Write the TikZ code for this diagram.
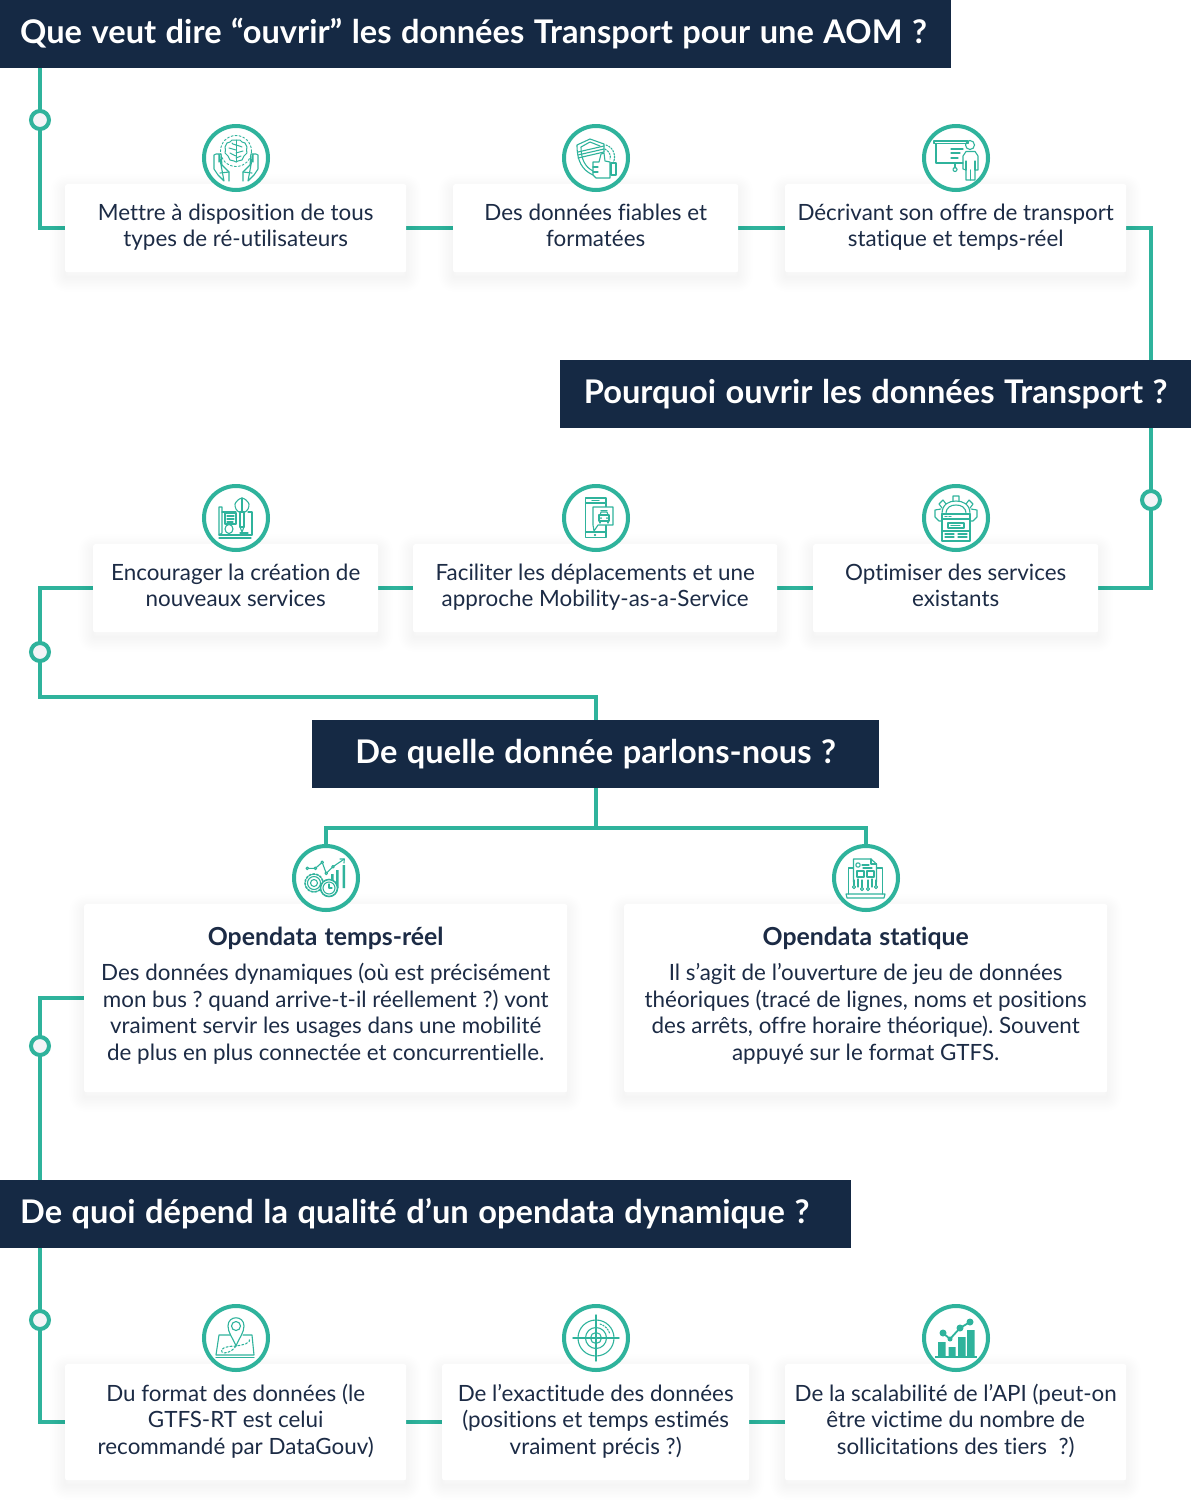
\documentclass[tikz,border=0pt]{standalone}
\usepackage{fontspec}
\setmainfont[Ligatures=NoCommon,WordSpace=1.0]{Lato}
\newfontfamily\titlefont[Ligatures=NoCommon,WordSpace=1.2,BoldFont={Lato Bold},BoldFeatures={WordSpace=1.2}]{Lato}
\frenchspacing
\usetikzlibrary{backgrounds}
\definecolor{teal}{HTML}{2FB39C}
\definecolor{navy}{HTML}{152944}
\definecolor{ink}{HTML}{1C2B45}
\definecolor{dotfill}{HTML}{F3F4F7}
\tikzset{
  softshadow/.style={preaction={draw=black,draw opacity=.0045,line width=#1,line join=round,transform canvas={yshift=-5pt}}},
  card/.style={fill=white,rounded corners=2pt,inner sep=0pt,align=center,text=ink,anchor=north west,
    font=\frenchspacing\fontsize{22.4}{26.5}\selectfont,
    execute at begin node={\rule{0pt}{18pt}},execute at end node={\rule[-6pt]{0pt}{6pt}},
    softshadow=2pt,softshadow=5pt,softshadow=8pt,softshadow=11pt,softshadow=14pt,softshadow=17pt,softshadow=20pt,softshadow=23pt,softshadow=26pt,softshadow=30pt},
  tallcard/.style={card,execute at end node={\rule[-9pt]{0pt}{9pt}}},
  titlebar/.style={fill=navy,text=white,inner sep=0pt,anchor=north west,minimum height=68pt,
    text height=25pt,text depth=6pt,font=\frenchspacing\titlefont\bfseries\fontsize{32.6}{38}\selectfont},
  link/.style={draw=teal,line width=4pt,line join=miter},
  knob/.style={circle,draw=teal,line width=4pt,fill=dotfill,minimum size=18pt,inner sep=0pt},
  ring/.style={circle,draw=teal,line width=4pt,fill=white,minimum size=64pt,inner sep=0pt},
  glyph/.style={draw=teal,line width=1.1pt,line join=round,line cap=round},
}
\begin{document}
\begin{tikzpicture}[x=1pt,y=-1pt]
\useasboundingbox (0,0) rectangle (1191,1505);

% title bars
\node[titlebar,minimum width=951pt,text width=951pt,align=flush left] (t1) at (0,0) {\hspace*{20pt}Que veut dire “ouvrir” les données Transport pour une AOM ?};
\node[titlebar,minimum width=631pt,text width=631pt,align=flush center] (t2) at (560,360) {Pourquoi ouvrir les données Transport ?};
\node[titlebar,minimum width=567pt,text width=567pt,align=flush center] (t3) at (312,720) {De quelle donnée parlons-nous ?};
\node[titlebar,minimum width=851pt,text width=851pt,align=flush left] (t4) at (0,1180) {\hspace*{20pt}De quoi dépend la qualité d’un opendata dynamique ?};

% cards
\node[card,minimum width=341pt,minimum height=88pt] (c1) at (65,184) {Mettre à disposition de tous\\types de ré-utilisateurs};
\node[card,minimum width=285pt,minimum height=88pt] (c2) at (453,184) {Des données fiables et\\formatées};
\node[card,minimum width=341pt,minimum height=88pt] (c3) at (785,184) {Décrivant son offre de transport\\statique et temps-réel};
\node[card,minimum width=285pt,minimum height=88pt] (c4) at (93,544) {Encourager la création de\\nouveaux services};
\node[card,minimum width=364pt,minimum height=88pt] (c5) at (413,544) {Faciliter les déplacements et une\\approche Mobility-as-a-Service};
\node[card,minimum width=285pt,minimum height=88pt] (c6) at (813,544) {Optimiser des services\\existants};
\node[tallcard,minimum width=483pt,minimum height=188pt] (c7) at (84,904) {{\titlefont\bfseries\fontsize{24.8}{26.5}\selectfont Opendata temps-réel}\\[8.5pt]Des données dynamiques (où est précisément\\mon bus ? quand arrive-t-il réellement ?) vont\\vraiment servir les usages dans une mobilité\\de plus en plus connectée et concurrentielle.};
\node[tallcard,minimum width=483pt,minimum height=188pt] (c8) at (624,904) {{\titlefont\bfseries\fontsize{24.8}{26.5}\selectfont Opendata statique}\\[8.5pt]Il s’agit de l’ouverture de jeu de données\\théoriques (tracé de lignes, noms et positions\\des arrêts, offre horaire théorique). Souvent\\appuyé sur le format GTFS.};
\node[card,minimum width=341pt,minimum height=116pt] (c9) at (65,1364) {Du format des données (le\\GTFS-RT est celui\\recommandé par DataGouv)};
\node[card,minimum width=307pt,minimum height=116pt] (c10) at (442,1364) {De l’exactitude des données\\(positions et temps estimés\\vraiment précis ?)};
\node[card,minimum width=341pt,minimum height=116pt] (c11) at (785,1364) {De la scalabilité de l’API (peut-on\\être victime du nombre de\\sollicitations des tiers\ \ ?)};

% junction knobs
\node[knob] (d1) at (40,120) {};
\node[knob] (d2) at (1151,500) {};
\node[knob] (d3) at (40,652) {};
\node[knob] (d4) at (40,1046) {};
\node[knob] (d5) at (40,1320) {};

% icon rings
\node[ring] (i1) at (236,158) {};
\node[ring] (i2) at (596,158) {};
\node[ring] (i3) at (956,158) {};
\node[ring] (i4) at (236,518) {};
\node[ring] (i5) at (596,518) {};
\node[ring] (i6) at (956,518) {};
\node[ring] (i7) at (326,878) {};
\node[ring] (i8) at (866,878) {};
\node[ring] (i9) at (236,1338) {};
\node[ring] (i10) at (596,1338) {};
\node[ring] (i11) at (956,1338) {};

\coordinate (k3) at (596,697);
\coordinate (k4) at (596,828);

% connectors
\begin{scope}[on background layer]
\fill[white] (0,0) rectangle (1191,1505);
\draw[link] (d1 |- t1.south) -- (d1 |- c1) -- (c1.west);
\draw[link] (c1.east) -- (c2.west);
\draw[link] (c2.east) -- (c3.west);
\draw[link] (c3.east) -| (d2 |- t2.north);
\draw[link] (d2 |- t2.south) |- (c6.east);
\draw[link] (c6.west) -- (c5.east);
\draw[link] (c5.west) -- (c4.east);
\draw[link] (c4.west) -| (d3 |- k3) -- (k3) -- (k3 |- t3.north);
\draw[link] (k4 |- t3.south) -- (k4);
\draw[link] (i7.north) |- (k4) -| (i8.north);
\draw[link] (c7.west) -| (d4 |- t4.north);
\draw[link] (d5 |- t4.south) |- (c9.west);
\draw[link] (c9.east) -- (c10.west);
\draw[link] (c10.east) -- (c11.west);
\end{scope}

% icon 1: brain in hands
\begin{scope}[shift={(i1)}]
\draw[glyph,line width=.9pt,dash pattern=on 2pt off 2pt] (0,-7) circle (15.5);
\draw[glyph,line width=1pt] plot[smooth cycle,tension=.8] coordinates {(0,-18)(4,-18)(6,-16)(9,-15)(11,-11)(10.5,-8)(11,-5)(8,-2)(6,2)(2,3)(0,4)(-2,3)(-6,2)(-8,-2)(-11,-5)(-10.5,-8)(-11,-11)(-9,-15)(-6,-16)(-4,-18)};
\draw[glyph,line width=1pt] (0,-18)--(0,4);
\draw[glyph,line width=1pt] (0,-13) ..controls (-3,-13) and (-4,-15).. (-4,-15);
\draw[glyph,line width=1pt] (0,-13) ..controls (3,-13) and (4,-11).. (6,-11);
\draw[glyph,line width=1pt] (0,-8) ..controls (-3,-8) and (-4,-10).. (-7,-10);
\draw[glyph,line width=1pt] (0,-5) ..controls (3,-5) and (4,-7).. (7,-7);
\draw[glyph,line width=1pt] (0,-2) ..controls (-2,-2) and (-3,-4).. (-6,-5);
\draw[glyph,line width=1pt] (0,0) ..controls (2,0) and (3,-2).. (5,-2);
\foreach \s in {1,-1}{
\begin{scope}[xscale=\s]
\draw[glyph] (-7,23)--(-7,14)--(-14,7)--(-15,-4)--(-17,-4)--(-17,4) (-17,-4)--(-20,-4)--(-22,-3)--(-22,11)--(-18,17)--(-12,23)--cycle;
\draw[glyph] (-16,15)--(-7,14);
\end{scope}}
\end{scope}

% icon 2: shield and thumb
\begin{scope}[shift={(i2)}]
\draw[glyph] (-3,17)..controls (-14,12) and (-19,3)..(-19,-13)--(-6,-19)--(8,-14)--(8,-6);
\draw[glyph] (-3,13)..controls (-11,9) and (-15,1)..(-15,-11)--(-6,-16)--(4,-12);
\draw[glyph] (-18,-6)--(8,-12) (-18,-3)--(8,-9) (-18,0)--(8,-6);
\draw[glyph,fill=white] (-3,4)--(3,4)--(5,-4)--(8,-5)--(9,3)--(14,4)--(14,20)--(0,20)--(-3,17)--cycle;
\draw[glyph] (-3,9)--(2,9) (-3,14)--(2,14);
\draw[glyph] (15,5)--(20,5)--(20,17)--(15,17)--cycle;
\draw[glyph,dash pattern=on 1.5pt off 1.5pt] (10,-13)..controls (19,-10) and (20,0)..(17,5);
\draw[glyph,dash pattern=on 1.5pt off 1.5pt] (9,-9)..controls (14,-6) and (15,-2)..(14,1);
\end{scope}

% icon 3: presentation
\begin{scope}[shift={(i3)}]
\draw[glyph] (-22,-17) rectangle (12,-14.5);
\draw[glyph] (-20,-14.5)--(-20,5)--(7,5);
\draw[glyph] (-5,-9)--(7,-9) (-5,-5)--(4,-5) (-5,0)--(2,0);
\draw[glyph] (-1,5)--(-1,10);
\draw[glyph] (-1,11.5) circle (2);
\draw[glyph] (14,-13) circle (4.5);
\draw[glyph] (7,6)--(7,-2)--(10,-6.5)--(19,-6.5)--(22,-2)--(22,12)--(19,12)--(19,22)--(10,22)--(10,12)--(7,11)--(7,6);
\draw[glyph] (14.5,12)--(14.5,22) (10,3)--(10,12) (19,3)--(19,12);
\end{scope}

% icon 4: blueprint and brain
\begin{scope}[shift={(i4)}]
\draw[glyph] (-17,17)--(-17,-11)--(-14,-11)--(-14,15)--(-17,17);
\draw[glyph] (-17,17)--(16,17)--(16,-6)--(12,-6);
\draw[glyph] (-14,-6)--(0,-6) (-17,20)--(15,20);
\draw[glyph] (-11,-5) rectangle (0,6);
\draw[glyph] (-9,-2)--(-2,-2) (-9,1)--(-2,1) (-9,4)--(-3,4);
\draw[glyph] (-7,11) ellipse (4 and 4.5);
\draw[glyph] plot[smooth cycle] coordinates {(6,-20)(10,-18)(13,-14)(12,-9)(9,-6)(6,-7)(3,-6)(0,-9)(-1,-14)(2,-18)};
\draw[glyph] (6,-20)--(6,-7);
\draw[glyph] (4,-6) rectangle (8,9);
\draw[glyph] (4,9)--(6,14)--(8,9);
\draw[glyph] (4,15)--(12,15);
\end{scope}

% icon 5: phone and car
\begin{scope}[shift={(i5)}]
\draw[glyph] (-10.5,-20) rectangle (10,19.5);
\draw[glyph] (-10.5,-15)--(10,-15) (-10.5,14)--(10,14);
\draw[glyph] (-1,17) circle (.7);
\draw[glyph] (-4,-17.5)--(3,-17.5);
\draw[glyph,fill=white] (-3,-11)--(17,-11)--(17,7)--(2,7)--(-2,13)--(-3,7)--cycle;
\draw[glyph] (4,-3)--(5,-6)--(11,-6)--(12,-3);
\draw[glyph] (3,-3) rectangle (13,3);
\draw[glyph] (5,-7.5)--(11,-7.5) (4,3)--(4,5) (12,3)--(12,5);
\fill[teal] (5,0) circle (1) (11,0) circle (1);
\end{scope}

% icon 6: gear and window
\begin{scope}[shift={(i6)}]
\draw[glyph] (-14,-4)..controls (-14,-14) and (-7,-17)..(0,-17)..controls (7,-17) and (14,-14)..(14,-4);
\draw[glyph] (-10,-4)..controls (-10,-11) and (-5,-13)..(0,-13)..controls (5,-13) and (10,-11)..(10,-4);
\draw[glyph] (-3,-17)--(-3,-22)--(3,-22)--(3,-17) (-10,-14)--(-13,-18)--(-17,-14)--(-14,-10) (10,-14)--(13,-18)--(17,-14)--(14,-10);
\draw[glyph] (-15,-9)--(-21,-8)--(-21,-1)--(-17,3)--(-14,3) (15,-9)--(21,-8)--(21,-1)--(17,3)--(14,3);
\draw[glyph,fill=white] (-14,-4) rectangle (14,23);
\draw[glyph] (-14,1)--(14,1) (-11,-1.5)--(-9,-1.5) (-7,-1.5)--(-5,-1.5);
\draw[glyph] (-8,5) rectangle (8,10);
\draw[glyph,dash pattern=on 1pt off 1pt] (-5,7.5)--(5,7.5);
\draw[glyph] (-14,13)--(14,13) (-11,16)--(-2,16) (-11,19)--(-2,19) (2,16)--(11,16) (2,19)--(11,19);
\end{scope}

% icon 7: chart, gear and clock
\begin{scope}[shift={(i7)}]
\draw[glyph] (-18.7,-9.7)--(-10.6,-9.7)--(-3.8,-15.7)--(0.2,-4.7)--(7,-11.3)--(18.3,-19);
\draw[glyph] (14,-19)--(18.3,-19)--(18,-15);
\foreach \p in {(-18.7,-9.7),(-10.6,-9.7),(-3.8,-15.7),(0.2,-4.7),(7,-11.3)}{\draw[glyph,fill=white] \p circle (1.3);}
\fill[teal] (5,-4) rectangle (7.5,8) (10,-8) rectangle (12.5,10) (16.5,-13) rectangle (19,10);
\draw[glyph,line width=1.6pt,dash pattern=on 2.2pt off 1.5pt] (-12,5) circle (9);
\draw[glyph] (-12,5) circle (6.5);
\draw[glyph] (-12,5) circle (3.5);
\draw[glyph,fill=white,line width=1.6pt] (3,10) circle (8.5);
\draw[glyph] (3,10) circle (6);
\draw[glyph] (3,6)--(3,10)--(6,10);
\end{scope}

% icon 8: laptop and circuit
\begin{scope}[shift={(i8)}]
\draw[glyph] (-12.5,-10)--(-17.5,-10)--(-17.5,16) (10.5,-10)--(16.5,-10)--(16.5,16);
\draw[glyph] (-20,16)--(19,16)--(18,20)--(-19,20)--cycle;
\draw[glyph] (-12.5,4)--(-12.5,-19)--(5,-19)--(10.5,-14)--(10.5,4);
\draw[glyph] (5,-19)--(5,-14)--(10.5,-14);
\draw[glyph] (-8,-13) circle (2.2);
\draw[glyph] (-4,-13)--(3,-13) (-3,-10)--(6,-10);
\draw[glyph] (-9,-7) rectangle (-2,-1);
\draw[glyph] (1,-7) rectangle (8,-1);
\foreach \x/\y in {-12/9,-4/11,2/11,10/9}{
  \draw[glyph] (\x,2)--(\x,{\y-2});
  \draw[glyph] (\x,\y) circle (1.6);
}
\draw[glyph] (-8,1)--(-8,9) (6,1)--(6,9);
\end{scope}

% icon 9: map pin
\begin{scope}[shift={(i9)}]
\draw[glyph] (-6,-3)--(-17,-3)--(-20,17)--(18,17)--(16,-3)--(7,-3);
\draw[glyph] (-20,19.5)--(18,19.5);
\draw[glyph,fill=white] (0,8)..controls (-3,0) and (-8,-5)..(-8,-12)..controls (-8,-23) and (8,-23)..(8,-12)..controls (8,-5) and (3,0)..(0,8)--cycle;
\draw[glyph] (0,-12) circle (4.5);
\draw[glyph,dash pattern=on 2pt off 2pt] (0,8)..controls (-10,8) and (-17,11)..(-14,14)..controls (-12,16) and (-5,15)..(0,8)..controls (6,7) and (15,6)..(14,0);
\end{scope}

% icon 10: target
\begin{scope}[shift={(i10)}]
\draw[glyph] (0,0) circle (18);
\draw[glyph] (0,0) circle (10.5);
\draw[glyph] (0,0) circle (5.5);
\draw[glyph,line width=1.4pt] (-23,0)--(23,0) (0,-23)--(0,23);
\draw[glyph,dash pattern=on 1.5pt off 1.5pt] (4,-14) arc (-74:-16:14.5);
\end{scope}

% icon 11: bars and trend
\begin{scope}[shift={(i11)}]
\fill[teal] (-18,4) rectangle (-10.5,18) (-7.5,9) rectangle (-0.5,18) (2,-1) rectangle (9.5,18) (11,-8) rectangle (18.5,18);
\draw[draw=teal,line width=2pt] (-21,19)--(21,19);
\draw[draw=teal,line width=1.8pt] (-13,-5)--(-6,1)--(4,-10)--(14,-16);
\fill[teal] (-13,-5) circle (3.5) (-6,1) circle (2.5) (4,-10) circle (3.5) (14,-16) circle (3.5);
\end{scope}
\end{tikzpicture}
\end{document}
